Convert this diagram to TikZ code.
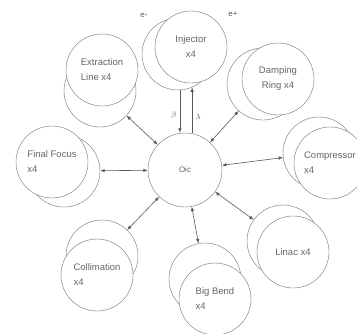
\documentclass[tikz,border=0pt]{standalone}
\usepackage{fontspec}
\setmainfont{Liberation Sans}
\usetikzlibrary{arrows.meta}
\tikzset{
  ring/.style={circle, draw=black!55, fill=white, minimum size=72pt, inner sep=0pt},
  stage/.style={ring, align=left, font=\fontsize{9.5}{15}\selectfont, text=black!60},
  link/.style={{Latex[length=4.5pt,width=3.5pt]}-{Latex[length=4.5pt,width=3.5pt]}, draw=black!65, line width=.6pt},
  fwd/.style={-{Latex[length=4.5pt,width=3.5pt]}, draw=black!65, line width=.6pt},
  tag/.style={font=\fontsize{8}{9}\selectfont, text=black!65}
}
\begin{document}
\begin{tikzpicture}[x=1pt,y=-1pt]
\useasboundingbox (0,0) rectangle (357,333);
\clip (0,0) rectangle (357,333);
\node[ring, minimum size=74pt, font=\fontsize{8}{9}\selectfont, text=black!60] (core) at (185,170) {Oic};
\node[ring] (injB) at (178,54) {};
\node[stage, align=center] (inj) at (191,47) {Injector\\x4};
\node[ring] (extrB) at (100,91) {};
\node[stage] (extr) at (102,70) {Extraction\\Line x4};
\node[ring] (drB) at (263,84) {};
\node[stage, align=center] (dr) at (278,79) {Damping\\Ring x4};
\node[ring] (compB) at (319,153) {};
\node[stage] (comp) at (330,163) {Compressor\\x4};
\node[ring] (linacB) at (283,241) {};
\node[stage] (linac) at (293,252) {Linac x4};
\node[ring] (bendB) at (205,279) {};
\node[stage] (bend) at (215,299) {Big Bend\\x4};
\node[ring] (collB) at (102,256) {};
\node[stage] (coll) at (97,275) {Collimation\\x4};
\node[ring] (ffB) at (64,171) {};
\node[stage] (ff) at (52,162) {Final Focus\\x4};
\node[tag] (eminus) at (144,15) {e-};
\node[tag] (eplus) at (233,14) {e+};
\draw[fwd] (injB.273) -- (injB.273 |- core.north) node[pos=.6, left, tag] {$\beta$};
\draw[fwd] (injB.293 |- core.north) -- (injB.293) node[pos=.36, right, tag] {$\lambda$};
\draw[link] (core) -- (extrB);
\draw[link] (core) -- (drB);
\draw[link] (core) -- (compB);
\draw[link] (core) -- (linacB);
\draw[link] (core) -- (bendB);
\draw[link] (core) -- (collB);
\draw[link] (core) -- (ffB);
\end{tikzpicture}
\end{document}
